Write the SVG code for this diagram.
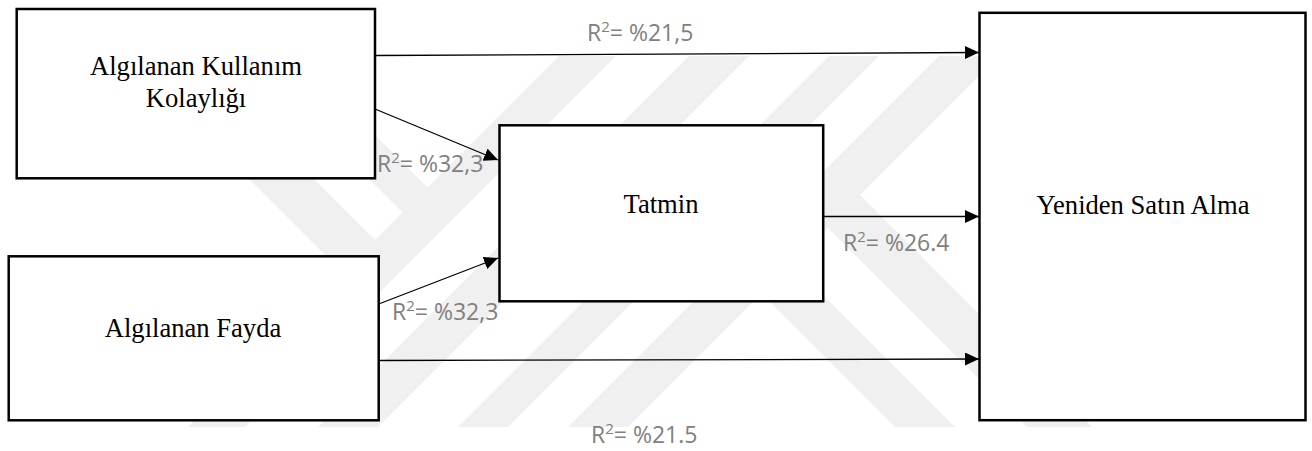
<svg xmlns="http://www.w3.org/2000/svg" width="1312" height="451" viewBox="0 0 1312 451">
<style>
.box{fill:#fff;stroke:#000;stroke-width:2.5}
.node{font-family:"Liberation Serif","Times New Roman",serif;font-size:26.6px;fill:#000;text-anchor:middle}
.lbl{font-family:"Open Sans","Liberation Sans",sans-serif;font-size:23px;fill:#808080}
.sup{font-size:15px}
.edge{stroke:#000;stroke-width:1.3;fill:none;marker-end:url(#arr)}
.wm{fill:#f0f0f0}
</style>
<defs>
<marker id="arr" markerUnits="userSpaceOnUse" markerWidth="15" markerHeight="14" refX="14" refY="6.5" orient="auto">
<path d="M0,0 L14,6.5 L0,13 z" fill="#000"/>
</marker>
<clipPath id="wmclip"><rect x="0" y="56" width="1312" height="371"/></clipPath>
</defs>
<rect width="1312" height="451" fill="#fff"/>
<g id="watermark" clip-path="url(#wmclip)">
<polygon class="wm" points="559,56 616,56 245,427 188,427"/>
<polygon class="wm" points="689,56 749,56 378,427 318,427"/>
<polygon class="wm" points="829,56 879,56 508,427 458,427"/>
<polygon class="wm" points="939,56 999,56 628,427 568,427"/>
<polygon class="wm" points="220,150 285,150 375,240 371,301"/>
<polygon class="wm" points="310,120 360,120 427.5,187.5 431,241"/>
<polygon class="wm" points="628,160 688,160 955,427 895,427"/>
<polygon class="wm" points="830,165 1092,427 1027,427 827.5,227.5"/>
</g>
<g id="connectors">
<line class="edge" x1="376" y1="55.5" x2="979" y2="52.5"/>
<line class="edge" x1="375" y1="109" x2="498" y2="160"/>
<line class="edge" x1="380" y1="303.5" x2="498" y2="258"/>
<line class="edge" x1="823" y1="216.5" x2="979" y2="216.5"/>
<line class="edge" x1="380" y1="360.5" x2="979" y2="359"/>
</g>
<g id="node-kolaylik">
<rect class="box" x="16.7" y="9" width="358.3" height="169.3"/>
<text class="node" x="196" y="75">Algılanan Kullanım</text>
<text class="node" x="196" y="107">Kolaylığı</text>
</g>
<g id="node-fayda">
<rect class="box" x="8.7" y="256.3" width="370" height="164"/>
<text class="node" x="193" y="337">Algılanan Fayda</text>
</g>
<g id="node-tatmin">
<rect class="box" x="499.5" y="125.3" width="323.7" height="176"/>
<text class="node" x="661" y="213">Tatmin</text>
</g>
<g id="node-yeniden">
<rect class="box" x="979.5" y="12.8" width="326" height="407.4"/>
<text class="node" x="1143" y="214">Yeniden Satın Alma</text>
</g>
<g id="labels">
<text class="lbl" x="587" y="41">R<tspan class="sup" dy="-9">2</tspan><tspan dy="9">= %21,5</tspan></text>
<text class="lbl" x="377" y="172">R<tspan class="sup" dy="-9">2</tspan><tspan dy="9">= %32,3</tspan></text>
<text class="lbl" x="392" y="320">R<tspan class="sup" dy="-9">2</tspan><tspan dy="9">= %32,3</tspan></text>
<text class="lbl" x="843" y="251">R<tspan class="sup" dy="-9">2</tspan><tspan dy="9">= %26.4</tspan></text>
<text class="lbl" x="591" y="443">R<tspan class="sup" dy="-9">2</tspan><tspan dy="9">= %21.5</tspan></text>
</g>
</svg>
